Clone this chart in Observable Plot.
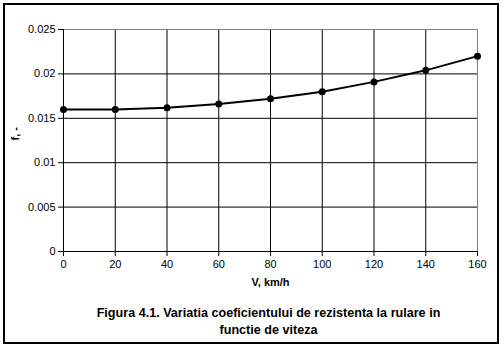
<!DOCTYPE html>
<html>
<head>
<meta charset="utf-8">
<script src="https://cdn.jsdelivr.net/npm/d3@7"></script>
<script src="https://cdn.jsdelivr.net/npm/@observablehq/plot@0.6"></script>
<style>
  html, body { margin: 0; padding: 0; background: #fff; }
  #wrap { position: relative; width: 504px; height: 354px; }
  #border { position: absolute; left: 3px; top: 3px; width: 492px; height: 337px; border: 2px solid #000; pointer-events: none; }
  g[aria-label="caption"] text { letter-spacing: -0.6px; }
  g[aria-label="xlabel"] text { letter-spacing: -0.2px; }
</style>
</head>
<body>
<div id="wrap"><div id="border"></div></div>
<script>
const speeds = [0, 20, 40, 60, 80, 100, 120, 140, 160];
const fValues = [0.0160, 0.0160, 0.0162, 0.0166, 0.0172, 0.0180, 0.0191, 0.0204, 0.0220];
const xTicks = [0, 20, 40, 60, 80, 100, 120, 140, 160];
const yTicks = [0, 0.005, 0.01, 0.015, 0.02, 0.025];
const yTickLabels = ["0", "0.005", "0.01", "0.015", "0.02", "0.025"];
const xLabel = "V, km/h";
const yLabel = "f, -";
const captionLines = ["Figura 4.1. Variatia coeficientului de rezistenta la rulare in", "functie de viteza"];

const data = speeds.map((v, i) => ({v, f: fValues[i]}));
const font = "'Liberation Sans', Arial, sans-serif";

const chart = Plot.plot({
  width: 504,
  height: 354,
  marginLeft: 63,
  marginRight: 27,
  marginTop: 29,
  marginBottom: 103,
  style: {fontFamily: font, fontSize: "11px", background: "transparent", color: "#000"},
  x: {domain: [0, 160], ticks: xTicks},
  y: {domain: [0, 0.025], ticks: yTicks},
  marks: [
    Plot.ruleX(xTicks.filter(d => d > 0 && d < 160), {stroke: "#000", strokeWidth: 1}),
    Plot.ruleX([160], {stroke: "#808080", strokeWidth: 1}),
    Plot.ruleY(yTicks.filter(d => d > 0 && d < 0.025), {stroke: "#000", strokeWidth: 1}),
    Plot.ruleY([0.025], {stroke: "#808080", strokeWidth: 1}),
    Plot.ruleX([0], {stroke: "#000", strokeWidth: 1}),
    Plot.ruleY([0], {stroke: "#000", strokeWidth: 1}),
    Plot.axisX({ticks: xTicks, tickSize: 5, tickPadding: 4, tickFormat: d => String(d), fontSize: 11, label: null}),
    Plot.axisY({ticks: yTicks, tickSize: 5, tickPadding: 3, tickFormat: (d, i) => yTickLabels[yTicks.indexOf(d)], fontSize: 11, label: null}),
    Plot.line(data, {x: "v", y: "f", stroke: "#000", strokeWidth: 2, curve: "linear"}),
    Plot.dot(data, {x: "v", y: "f", r: 3.5, fill: "#000", stroke: "none"}),
    Plot.text([xLabel], {frameAnchor: "bottom", dy: 34, text: d => d, fontWeight: "bold", fontSize: 11, ariaLabel: "xlabel"}),
    Plot.text([yLabel], {frameAnchor: "left", dx: -48, rotate: -90, text: d => d, fontWeight: "bold", fontSize: 11, ariaLabel: "ylabel"}),
    Plot.text([captionLines[0]], {frameAnchor: "bottom", dx: -2, dy: 65, text: d => d, fontWeight: "bold", fontSize: 12.6, ariaLabel: "caption"}),
    Plot.text([captionLines[1]], {frameAnchor: "bottom", dx: -2, dy: 82, text: d => d, fontWeight: "bold", fontSize: 12.6, ariaLabel: "caption"})
  ]
});
chart.style.position = "absolute";
chart.style.left = "0px";
chart.style.top = "0px";
document.getElementById("wrap").insertBefore(chart, document.getElementById("border"));
</script>
</body>
</html>
